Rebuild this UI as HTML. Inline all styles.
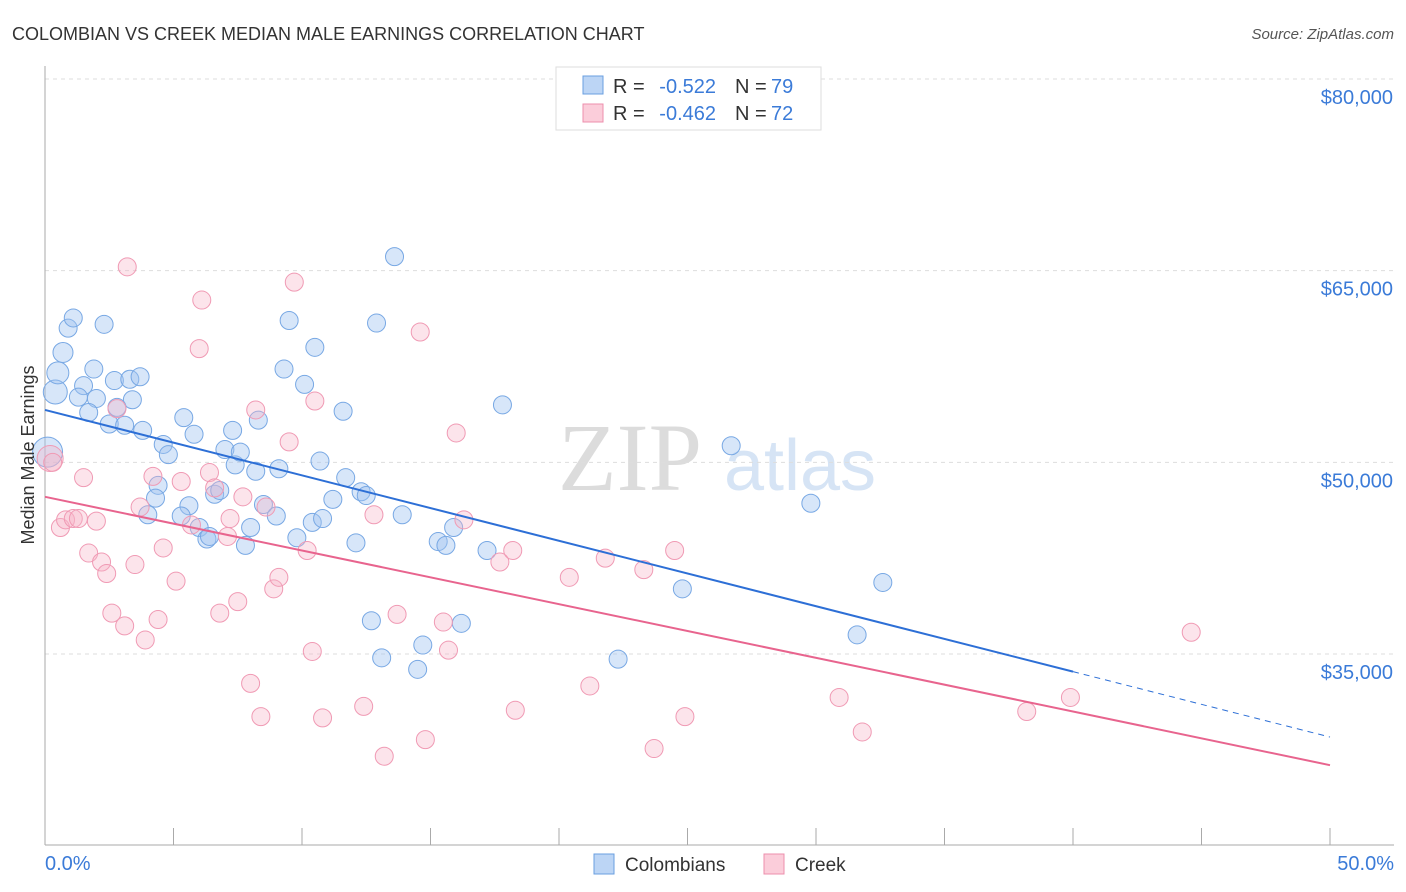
<!DOCTYPE html>
<html><head><meta charset="utf-8"><style>
body{margin:0;background:#fff;font-family:"Liberation Sans",sans-serif;}
</style></head><body>
<svg id="chart" width="1406" height="892" xmlns="http://www.w3.org/2000/svg" style="display:block">
<text x="12" y="40" font-size="18" fill="#333">COLOMBIAN VS CREEK MEDIAN MALE EARNINGS CORRELATION CHART</text>
<text x="1394" y="39" font-size="15" fill="#555" font-style="italic" text-anchor="end">Source: ZipAtlas.com</text>
<text x="630" y="490" font-size="96" fill="#dcdcdc" font-family="Liberation Serif,serif" text-anchor="middle">ZIP</text>
<text x="800" y="490" font-size="72" fill="#d6e4f5" text-anchor="middle">atlas</text>
<g id="grid"></g><g id="axes"></g><g id="pts"></g><g id="lines"></g>
<text transform="translate(34,455) rotate(-90)" font-size="18" fill="#333" text-anchor="middle">Median Male Earnings</text>
<text x="45" y="870" font-size="20" fill="#3b7bd8">0.0%</text>
<text x="1394" y="870" font-size="20" fill="#3b7bd8" text-anchor="end">50.0%</text>
<g>
<rect x="556" y="67" width="265" height="63" fill="#fff" stroke="#ddd"/>
<rect x="583" y="76" width="20" height="18" fill="#bcd5f5" stroke="#6a9fe0"/>
<text x="613" y="93" font-size="20" fill="#333">R =</text>
<text x="716" y="93" font-size="20" fill="#3b7bd8" text-anchor="end">-0.522</text>
<text x="735" y="93" font-size="20" fill="#333">N =</text>
<text x="771" y="93" font-size="20" fill="#3b7bd8">79</text>
<rect x="583" y="104" width="20" height="18" fill="#fbcdda" stroke="#ec8fac"/>
<text x="613" y="120" font-size="20" fill="#333">R =</text>
<text x="716" y="120" font-size="20" fill="#3b7bd8" text-anchor="end">-0.462</text>
<text x="735" y="120" font-size="20" fill="#333">N =</text>
<text x="771" y="120" font-size="20" fill="#3b7bd8">72</text>
</g>
<g>
<rect x="594" y="854" width="20" height="20" fill="#bcd5f5" stroke="#6a9fe0"/>
<text x="625" y="871" font-size="19" fill="#333">Colombians</text>
<rect x="764" y="854" width="20" height="20" fill="#fbcdda" stroke="#ec8fac"/>
<text x="795" y="871" font-size="19" fill="#333">Creek</text>
</g>
</svg>
<script>
const yTicks=[35000,50000,65000,80000];
const yTickLabels=["$35,000","$50,000","$65,000","$80,000"];
const blueX=[0.1,0.4,0.5,0.7,0.9,1.1,2.3,1.9,1.5,1.3,2.0,1.7,2.7,3.3,3.7,3.4,2.8,2.5,3.1,3.8,4.6,4.8,5.4,5.8,4.4,4.3,4.0,5.6,5.3,6.0,6.3,6.4,6.6,6.8,7.4,7.3,7.0,7.6,8.3,8.0,7.8,8.5,9.0,9.1,8.2,9.3,9.5,10.1,10.5,11.6,10.7,11.2,10.4,10.8,9.8,11.7,12.3,12.5,12.1,12.9,13.6,13.9,15.3,15.6,15.9,12.7,13.1,14.7,14.5,16.2,17.2,17.8,22.3,24.8,26.7,29.8,31.6,32.6];
const blueY=[50.8,55.5,57.0,58.6,60.5,61.3,60.8,57.3,56.0,55.1,55.0,53.9,56.4,56.5,56.7,54.9,54.3,53.0,52.9,52.5,51.4,50.6,53.5,52.2,48.2,47.2,45.9,46.6,45.8,44.9,44.0,44.2,47.5,47.8,49.8,52.5,51.0,50.8,53.3,44.9,43.5,46.7,45.8,49.5,49.3,57.3,61.1,56.1,59.0,54.0,50.1,47.1,45.3,45.6,44.1,48.8,47.7,47.4,43.7,60.9,66.1,45.9,43.8,43.5,44.9,37.6,34.7,35.7,33.8,37.4,43.1,54.5,34.6,40.1,51.3,46.8,36.5,40.6];
const blueR=[15,12,11,10];
const pinkX=[0.2,0.3,0.6,0.8,1.1,1.3,2.0,1.5,1.7,2.2,2.4,2.6,3.1,3.5,3.2,3.7,2.8,3.9,4.2,4.4,4.6,5.1,5.3,5.7,6.1,6.0,6.4,6.6,6.8,7.1,7.2,7.5,7.7,8.0,8.2,8.4,8.6,8.9,9.1,9.5,9.7,10.2,10.4,10.5,10.8,12.4,12.8,13.2,13.7,14.6,14.8,15.5,15.7,16.0,16.3,17.7,18.2,18.3,20.4,21.2,21.8,23.3,23.7,24.5,24.9,30.9,31.8,38.2,39.9,44.6];
const pinkY=[50.3,50.0,44.9,45.5,45.6,45.6,45.4,48.8,42.9,42.2,41.3,38.2,37.2,42.0,65.3,46.5,54.2,36.1,48.9,37.7,43.3,40.7,48.5,45.1,62.7,58.9,49.2,48.0,38.2,44.2,45.6,39.1,47.3,32.7,54.1,30.1,46.5,40.1,41.0,51.6,64.1,43.1,35.2,54.8,30.0,30.9,45.9,27.0,38.1,60.2,28.3,37.5,35.3,52.3,45.5,42.2,43.1,30.6,41.0,32.5,42.5,41.6,27.6,43.1,30.1,31.6,28.9,30.5,31.6,36.7];
const pinkR=[13];
const blueFit=[54.1,-0.512];
const pinkFit=[47.3,-0.42];
const blueSolidEnd=40;

const NS="http://www.w3.org/2000/svg";
const X0=45,X1=1330,Ytop=79,Ybot=654;
function sx(p){return X0+(p/50)*(X1-X0);}
function sy(v){return Ytop+(80000-v)/45000*(Ybot-Ytop);}
function mk(t,a,parent){const e=document.createElementNS(NS,t);for(const k in a)e.setAttribute(k,a[k]);parent.appendChild(e);return e;}
const grid=document.getElementById('grid'),axes=document.getElementById('axes'),pts=document.getElementById('pts'),lines=document.getElementById('lines');
yTicks.forEach((v,i)=>{
  const g=mk('line',{x1:45,x2:1394,y1:sy(v),y2:sy(v),stroke:'#ddd','stroke-dasharray':'4,4'},grid);
  
  
  const t=mk('text',{x:1393,y:sy(v)+25,'font-size':20,fill:'#3b7bd8','text-anchor':'end'},grid);
  t.textContent=yTickLabels[i];
  
  
});
const ya=mk('line',{x1:45,x2:45,y1:66,y2:845,stroke:'#aaa'},axes);


const xa=mk('line',{x1:45,x2:1394,y1:845,y2:845,stroke:'#aaa'},axes);


for(let i=0;i<=10;i++){
  const tk=mk('line',{x1:sx(i*5),x2:sx(i*5),y1:828,y2:845,stroke:'#aaa'},axes);
  
  
}
function dots(X,Y,R,fill,stroke,name){
  X.forEach((x,i)=>{
    const c=mk('circle',{cx:sx(x),cy:sy(Y[i]*1000),r:R[i]||9,fill:fill,stroke:stroke,'stroke-width':1},pts);
    
    
  });
}
dots(blueX,blueY,blueR,'rgba(160,196,240,0.42)','#78a8e4','colombian-point');
dots(pinkX,pinkY,pinkR,'rgba(248,180,200,0.36)','#f09ab4','creek-point');
function fy(f,x){return sy((f[0]+f[1]*x)*1000);}
const bl=mk('line',{x1:sx(0),y1:fy(blueFit,0),x2:sx(blueSolidEnd),y2:fy(blueFit,blueSolidEnd),stroke:'#2d6fd6','stroke-width':2},lines);


const bd=mk('line',{x1:sx(blueSolidEnd),y1:fy(blueFit,blueSolidEnd),x2:sx(50),y2:fy(blueFit,50),stroke:'#2d6fd6','stroke-width':1,'stroke-dasharray':'6,5'},lines);


const pl=mk('line',{x1:sx(0),y1:fy(pinkFit,0),x2:sx(50),y2:fy(pinkFit,50),stroke:'#e8648e','stroke-width':2},lines);


</script>
</body></html>
